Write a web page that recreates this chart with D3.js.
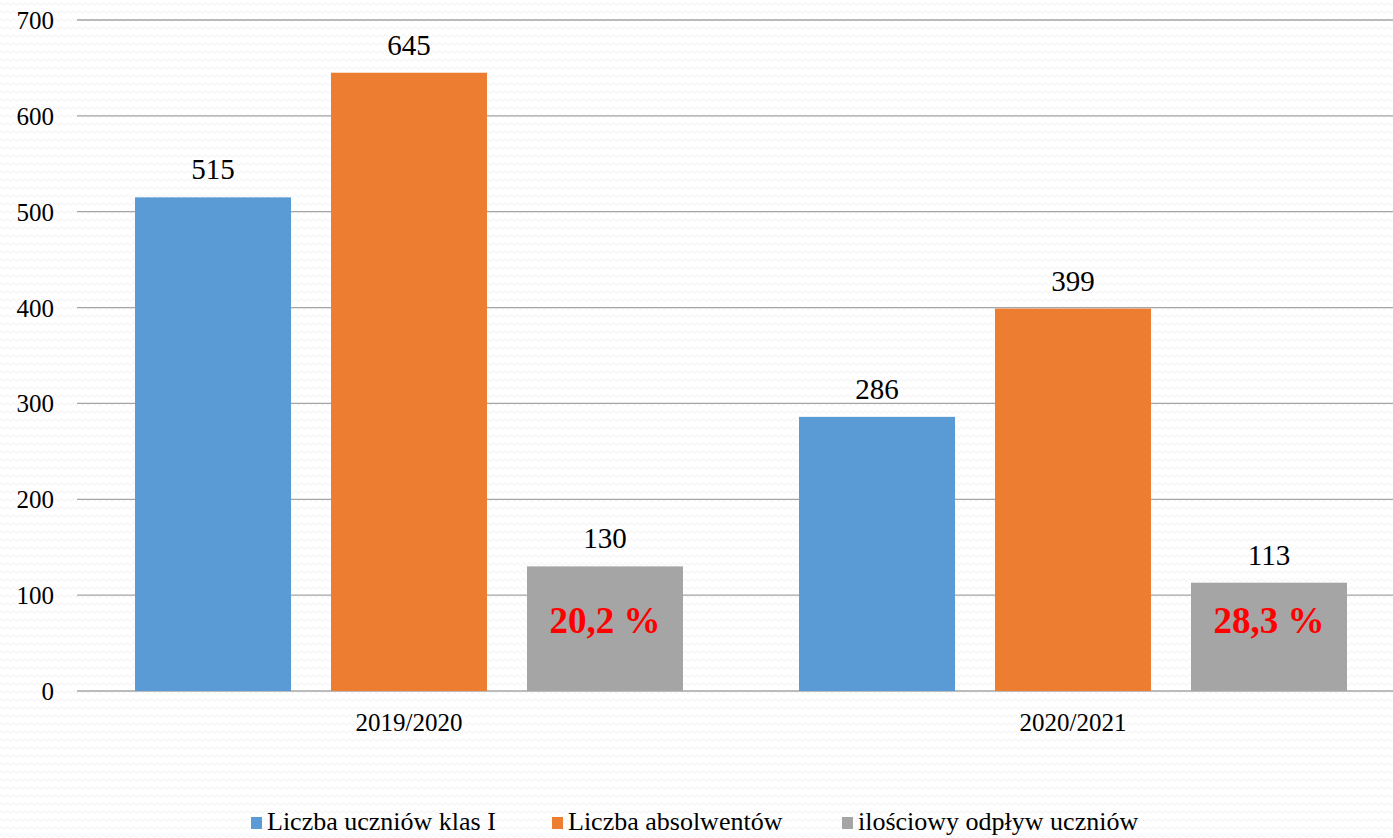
<!DOCTYPE html>
<html>
<head>
<meta charset="utf-8">
<script src="https://cdn.jsdelivr.net/npm/d3@7"></script>
<style>
  body { margin: 0; background: #fff; }
  svg { display: block; font-family: "Liberation Serif", "Times New Roman", serif; }
</style>
</head>
<body>
<div id="chart"></div>
<script>
// data
var categories = ['2019/2020', '2020/2021'];
var seriesNames = ['Liczba uczniów klas I', 'Liczba absolwentów', 'ilościowy odpływ uczniów'];
var firstClass = [515, 286];
var graduates = [645, 399];
var outflow = [130, 113];
var outflowPct = ['20,2 %', '28,3 %'];
var yTicks = [0, 100, 200, 300, 400, 500, 600, 700];
var colors = ['#5b9bd5', '#ed7d31', '#a5a5a5'];

var W = 1393, H = 838;
var svg = d3.select('#chart').append('svg').attr('width', W).attr('height', H);

// faint wavy background
var defs = svg.append('defs');
var pat = defs.append('pattern').attr('id', 'wave')
    .attr('patternUnits', 'userSpaceOnUse').attr('width', 6).attr('height', 8);
pat.append('rect').attr('width', 6).attr('height', 8).attr('fill', '#fff');
pat.append('path').attr('d', 'M0,4 L1.5,2.5 L3,4 L4.5,5.5 L6,4')
    .attr('fill', 'none').attr('stroke', '#efefef').attr('stroke-width', 1);
svg.append('rect').attr('width', W).attr('height', H).attr('fill', 'url(#wave)');

var y = d3.scaleLinear().domain([0, 700]).range([691, 20]);
var x0 = d3.scaleBand().domain(categories).range([77, 1405]);
var x1 = d3.scaleBand().domain(seriesNames).range([0, x0.bandwidth()])
    .paddingInner(0.204).paddingOuter(0.296);
var color = d3.scaleOrdinal().domain(seriesNames).range(colors);

// gridlines
svg.append('g').selectAll('line').data(yTicks).enter().append('line')
    .attr('x1', 77).attr('x2', W)
    .attr('y1', function (d) { return y(d); })
    .attr('y2', function (d) { return y(d); })
    .attr('stroke', '#a6a6a6').attr('stroke-width', 1.3);

// y axis labels
var yAxis = d3.axisLeft(y).tickValues(yTicks).tickSize(0).tickPadding(0);
var gy = svg.append('g').attr('transform', 'translate(54,0)').call(yAxis);
gy.select('.domain').remove();
gy.selectAll('text').attr('font-size', '25px').attr('fill', '#000')
    .attr('font-family', '"Liberation Serif", serif').attr('dy', '0.34em');

// x axis labels
var xAxis = d3.axisBottom(x0).tickSize(0).tickPadding(0);
var gx = svg.append('g').attr('transform', 'translate(0,712)').call(xAxis);
gx.select('.domain').remove();
gx.selectAll('text').attr('font-size', '25px').attr('fill', '#000')
    .attr('font-family', '"Liberation Serif", serif').attr('dy', '0.75em');

var rows = categories.map(function (c, i) {
    return { cat: c, vals: [firstClass[i], graduates[i], outflow[i]], pct: outflowPct[i] };
});

var groups = svg.append('g').selectAll('g').data(rows).enter().append('g')
    .attr('transform', function (d) { return 'translate(' + x0(d.cat) + ',0)'; });

groups.selectAll('rect').data(function (d) {
    return d.vals.map(function (v, j) { return { s: seriesNames[j], v: v }; });
}).enter().append('rect')
    .attr('x', function (d) { return x1(d.s); })
    .attr('y', function (d) { return y(d.v); })
    .attr('width', x1.bandwidth())
    .attr('height', function (d) { return y(0) - y(d.v); })
    .attr('fill', function (d) { return color(d.s); });

groups.selectAll('text.val').data(function (d) {
    return d.vals.map(function (v, j) { return { s: seriesNames[j], v: v }; });
}).enter().append('text').attr('class', 'val')
    .attr('x', function (d) { return x1(d.s) + x1.bandwidth() / 2; })
    .attr('y', function (d) { return y(d.v) - 18; })
    .attr('text-anchor', 'middle').attr('font-size', '29px').attr('fill', '#000')
    .text(function (d) { return d.v; });

// percentage labels in the grey bars
groups.append('text')
    .attr('x', x1(seriesNames[2]) + x1.bandwidth() / 2)
    .attr('y', y(60))
    .attr('text-anchor', 'middle').attr('font-size', '37px').attr('font-weight', 'bold')
    .attr('fill', '#ff0000')
    .text(function (d) { return d.pct; });

// legend
var legendX = [251, 552, 842];
var leg = svg.append('g').selectAll('g').data(seriesNames).enter().append('g')
    .attr('transform', function (d, i) { return 'translate(' + legendX[i] + ',0)'; });
leg.append('rect').attr('x', 0).attr('y', 817).attr('width', 11).attr('height', 12)
    .attr('fill', function (d) { return color(d); });
leg.append('text').attr('x', 16).attr('y', 830).attr('font-size', '26px').attr('fill', '#000')
    .text(function (d) { return d; });
</script>
</body>
</html>
